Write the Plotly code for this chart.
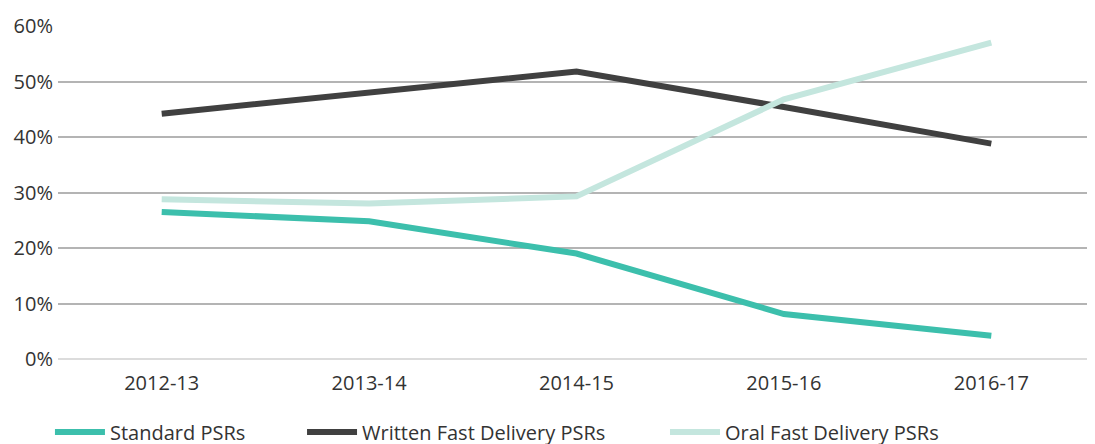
import plotly.graph_objects as go

years = ["2012-13", "2013-14", "2014-15", "2015-16", "2016-17"]
standard = [26.5, 24.8, 19.0, 8.1, 4.2]
written = [44.2, 47.9, 51.8, 45.4, 38.8]
oral = [28.8, 28.0, 29.3, 46.8, 57.0]
y_ticks = [0, 10, 20, 30, 40, 50, 60]
y_tick_labels = ["0%", "10%", "20%", "30%", "40%", "50%", "60%"]

FONT = "Open Sans"
TXT = "#333333"

fig = go.Figure()
fig.add_trace(go.Scatter(x=years, y=standard, mode="lines", name="Standard PSRs",
                         line=dict(color="#3cbfac", width=6), legend="legend", showlegend=True))
fig.add_trace(go.Scatter(x=years, y=written, mode="lines", name="Written Fast Delivery PSRs",
                         line=dict(color="#404040", width=6), legend="legend2", showlegend=True))
fig.add_trace(go.Scatter(x=years, y=oral, mode="lines", name="Oral Fast Delivery PSRs",
                         line=dict(color="#c4e6de", width=6), legend="legend3", showlegend=True))

leg_common = dict(orientation="h", yanchor="middle", y=0.0275, yref="container",
                  xanchor="left", xref="container",
                  font=dict(family=FONT, size=20, color=TXT), bgcolor="rgba(0,0,0,0)",
                  itemwidth=50)

fig.update_layout(
    width=1087, height=436,
    showlegend=True,
    margin=dict(l=50, r=0, t=18, b=85, autoexpand=False),
    paper_bgcolor="white", plot_bgcolor="white",
    font=dict(family=FONT, size=20, color=TXT),
    legend=dict(x=0.0386, **leg_common),
    legend2=dict(x=0.2705, **leg_common),
    legend3=dict(x=0.6044, **leg_common),
    xaxis=dict(type="category", range=[-0.5, 4.5], showgrid=False, zeroline=False,
               showline=False, ticks="", automargin=False, ticklabelstandoff=10,
               tickfont=dict(family=FONT, size=20, color=TXT)),
    yaxis=dict(range=[0, 60], tickvals=y_ticks, ticktext=y_tick_labels,
               showgrid=True, gridcolor="#b4b4b4", gridwidth=1.5,
               zeroline=True, zerolinecolor="#dcdcdc", zerolinewidth=2,
               showline=False, ticks="", ticklabelstandoff=4, automargin=False,
               tickfont=dict(family=FONT, size=20, color=TXT)),
)

fig.write_html("out.html")
